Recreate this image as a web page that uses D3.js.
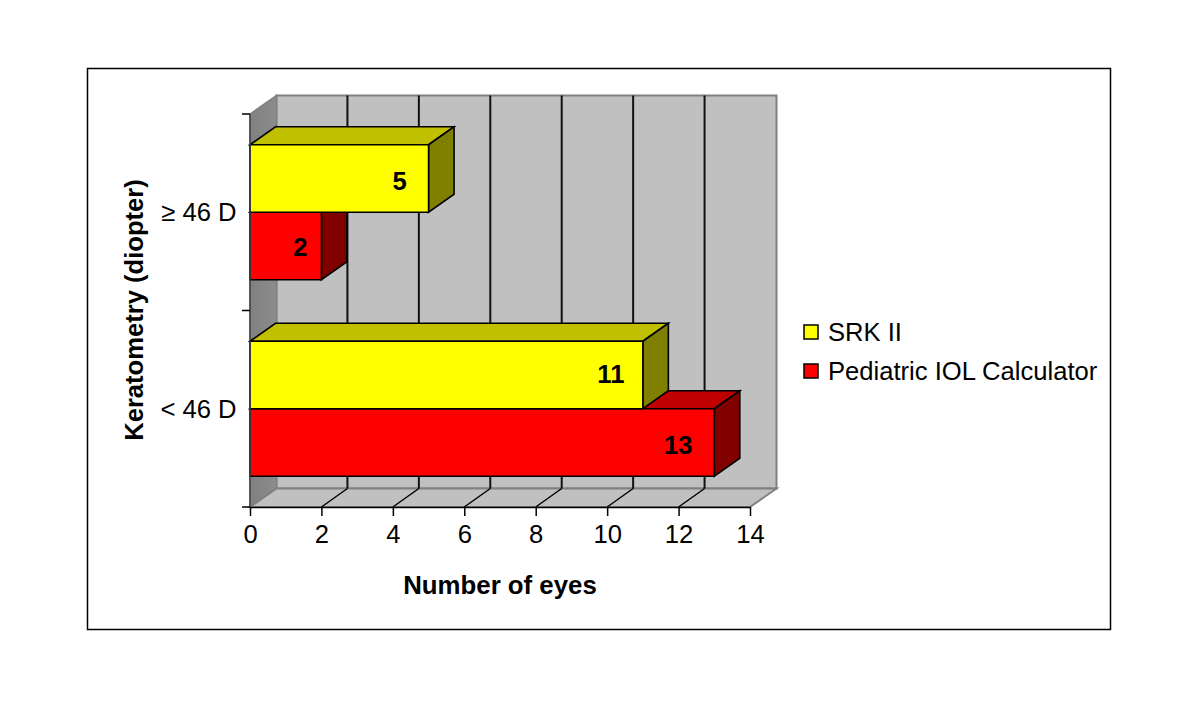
<!DOCTYPE html>
<html><head><meta charset="utf-8">
<script src="https://cdn.jsdelivr.net/npm/d3@7"></script>
<style>html,body{margin:0;background:#fff}svg{display:block}text{font-family:"Liberation Sans",Arial,sans-serif;fill:#000}</style>
</head><body><div id="c"></div>
<script>
const categories = ["≥ 46 D", "< 46 D"];
const seriesNames = ["SRK II", "Pediatric IOL Calculator"];
const srkValues = [5, 11];
const pediatricValues = [2, 13];
const xTicks = [0, 2, 4, 6, 8, 10, 12, 14];
const xTitle = "Number of eyes";
const yTitle = "Keratometry (diopter)";

const W = 1200, H = 705, FS = 25.6;
const svg = d3.select("#c").append("svg").attr("width", W).attr("height", H);
svg.append("rect").attr("x", 87.5).attr("y", 68.5).attr("width", 1023).attr("height", 561)
  .attr("fill", "#fff").attr("stroke", "#000").attr("stroke-width", 1.5);

const x = d3.scaleLinear().domain([0, 14]).range([250, 750]);
const y0 = d3.scaleBand().domain(categories).range([114, 507]);
const y1 = d3.scaleBand().domain(seriesNames).range([0, y0.bandwidth()]).paddingOuter(0.455).paddingInner(0);
const dx = 26.5, dy = -18.5;
const barDx = 25.5, barDy = -18;
const [L, R] = x.range(), [T, B] = y0.range();
const line = d3.line();
const poly = (pts, fill, stroke, sw) => svg.append("path").attr("d", line(pts) + "Z")
  .attr("fill", fill).attr("stroke", stroke).attr("stroke-width", sw).attr("stroke-linejoin", "miter");

poly([[L+dx,T+dy],[R+dx,T+dy],[R+dx,B+dy],[L+dx,B+dy]], "#c0c0c0", "#808080", 2);
const defs = svg.append("defs");
const g = defs.append("linearGradient").attr("id","w").attr("x1",0).attr("x2",1).attr("y1",0).attr("y2",0);
g.append("stop").attr("offset",0).attr("stop-color","#808080");
g.append("stop").attr("offset",1).attr("stop-color","#8c8c8c");
poly([[L,T],[L+dx,T+dy],[L+dx,B+dy],[L,B]], "url(#w)", "#808080", 1.5);
poly([[L,B],[L+dx,B+dy],[R+dx,B+dy],[R,B]], "#c0c0c0", "#808080", 2);

xTicks.slice(1, -1).forEach(t => {
  svg.append("line").attr("x1", x(t)+dx-0.5).attr("x2", x(t)+dx-0.5).attr("y1", T+dy).attr("y2", B+dy)
    .attr("stroke", "#111").attr("stroke-width", 2);
  svg.append("line").attr("x1", x(t)).attr("x2", x(t)+dx-0.5).attr("y1", B).attr("y2", B+dy)
    .attr("stroke", "#000").attr("stroke-width", 1.5);
});

function bar(cat, name, v, front, top, side, labelShift, labelDy) {
  const yy = y0(cat) + y1(name), h = y1.bandwidth(), x0 = x(0), x1 = x(v);
  poly([[x0,yy],[x0+barDx,yy+barDy],[x1+barDx,yy+barDy],[x1,yy]], top, "#000", 1.6);
  poly([[x1,yy],[x1+barDx,yy+barDy],[x1+barDx,yy+h+barDy],[x1,yy+h]], side, "#000", 1.6);
  poly([[x0,yy],[x1,yy],[x1,yy+h],[x0,yy+h]], front, "#000", 1.6);
  svg.append("text").attr("x", x1-labelShift).attr("y", yy+h/2+labelDy).attr("text-anchor","middle")
    .attr("font-size", FS).attr("font-weight","bold").text(v);
}
bar(categories[1], seriesNames[1], pediatricValues[1], "#ff0000", "#c00000", "#800000", 36, 11);
bar(categories[1], seriesNames[0], srkValues[1], "#ffff00", "#c0c000", "#808000", 32, 8);
bar(categories[0], seriesNames[1], pediatricValues[0], "#ff0000", "#c00000", "#800000", 21, 10);
bar(categories[0], seriesNames[0], srkValues[0], "#ffff00", "#c0c000", "#808000", 29, 12);

svg.append("line").attr("x1", L).attr("x2", L).attr("y1", T).attr("y2", B).attr("stroke","#404040").attr("stroke-width",1.5);
const xAxis = d3.axisBottom(x).tickValues(xTicks).tickSize(9).tickPadding(7).tickSizeOuter(0);
const gx = svg.append("g").attr("transform", `translate(0,${B})`).call(xAxis);
gx.select(".domain").attr("stroke","#000").attr("stroke-width",1.5);
gx.selectAll("line").attr("stroke","#000").attr("stroke-width",1.5);
gx.selectAll("text").attr("font-size",FS).attr("font-family",'"Liberation Sans"').attr("dy","0.8em");

[T, (T+B)/2, B].forEach(v => svg.append("line").attr("x1", L-8).attr("x2", L).attr("y1", v).attr("y2", v)
  .attr("stroke","#000").attr("stroke-width",1.5));
categories.forEach(c => svg.append("text").attr("x", 236.5).attr("y", y0(c)+y0.bandwidth()/2+9)
  .attr("text-anchor","end").attr("font-size",FS).text(c));

svg.append("text").attr("x", 500).attr("y", 594).attr("text-anchor","middle")
  .attr("font-size",FS+0.2).attr("font-weight","bold").text(xTitle);
svg.append("text").attr("transform","translate(143,310) rotate(-90)").attr("text-anchor","middle")
  .attr("font-size",FS).attr("font-weight","bold").text(yTitle);

const fills = ["#ffff00", "#ff0000"], ly = d3.scalePoint().domain(seriesNames).range([332, 371]);
seriesNames.forEach((n, i) => {
  svg.append("rect").attr("x", 804).attr("y", ly(n)-7).attr("width", 14).attr("height", 14)
    .attr("fill", fills[i]).attr("stroke","#000").attr("stroke-width",1.5);
  svg.append("text").attr("x", 828).attr("y", ly(n)+9).attr("font-size",FS).text(n);
});
</script></body></html>
